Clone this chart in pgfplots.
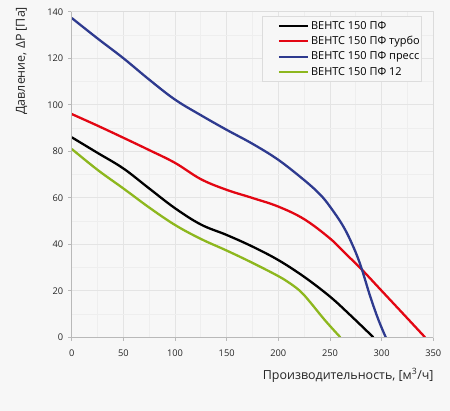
\documentclass[border=0pt]{standalone}
\usepackage{fontspec}
\setmainfont{Open Sans}
\usepackage{pgfplots}
\pgfplotsset{compat=1.18}
\definecolor{bg}{HTML}{F7F7F7}
\definecolor{axl}{HTML}{B9B9B9}
\definecolor{frm}{HTML}{DCDCDC}
\definecolor{gmaj}{HTML}{E4E4E4}
\definecolor{gmin}{HTML}{EEEEEE}
\definecolor{cred}{HTML}{E30613}
\definecolor{cblue}{HTML}{2E3A8F}
\definecolor{cgreen}{HTML}{8DB71E}
\begin{document}
\begin{tikzpicture}
\path[use as bounding box, fill=bg] (-71.7bp,-73.7bp) rectangle (378.3bp,337.3bp);
\begin{axis}[
  name=ax,
  at={(0,0)}, anchor=south west,
  scale only axis, width=361.6bp, height=325.6bp,
  xmin=0, xmax=350, ymin=0, ymax=140,
  xtick={0,50,...,350}, ytick={0,20,...,140},
  minor x tick num=1, minor y tick num=1,
  grid=both,
  major grid style={draw=gmaj, line width=0.8pt},
  minor grid style={draw=gmin, line width=0.8pt},
  axis line style={draw=frm, line width=0.8pt},
  xtick pos=bottom, ytick pos=left,
  tick align=outside, major tick length=3.5bp, minor tick length=0pt,
  tick style={draw=axl, line width=0.6pt},
  /pgf/number format/assume math mode=true,
  ticklabel style={font=\fontsize{9.3}{11}\selectfont, text=black!85},
  xticklabel style={yshift=-5bp},
  yticklabel style={xshift=-1.5bp},
  legend style={at={(0.969,0.987)}, anchor=north east, draw=frm, fill=bg,
    font=\fontsize{11}{12}\selectfont, row sep=1.8bp, inner ysep=2.8bp, inner xsep=0bp, line width=0.8pt},
  legend cell align=left,
  legend image code/.code={\path (0bp,0bp); \draw[#1] (15bp,0bp) -- (44bp,0bp);},
  every axis plot/.append style={line width=2.3pt, smooth, tension=0.6},
]
\addplot[black] coordinates {(0,86) (25,79.3) (50,72.6) (75,64) (100,55.5) (125,48.5) (150,44) (175,39) (200,33.2) (225,26) (250,17.5) (269,9.8) (292,0)};
\addplot[cred] coordinates {(0,96) (25,91) (50,85.8) (75,80.5) (100,75) (125,68) (150,63.4) (175,59.9) (200,56.2) (225,50.8) (250,42.5) (265,36) (280,29.5) (300,20) (320,10.5) (342,0)};
\addplot[cblue] coordinates {(0,137.3) (25,128.5) (50,120) (75,110.8) (100,102.2) (125,95.5) (150,89.2) (175,83.2) (200,76.3) (225,67.6) (240,61.6) (250,56.2) (263,47.6) (272.6,38.9) (280,30.4) (289,17.5) (297,7.4) (304,0)};
\addplot[cgreen] coordinates {(0,81) (25,72) (50,64) (75,55.8) (100,48.3) (125,42.3) (150,37.3) (175,32) (200,26.3) (212,23) (222,19.5) (231,15) (245,7.4) (260,0)};
\legend{ВЕНТС 150 ПФ, ВЕНТС 150 ПФ турбо, ВЕНТС 150 ПФ пресс, ВЕНТС 150 ПФ 12}
\end{axis}
\draw[axl, line width=0.8pt] (ax.north west) -- (ax.south west) -- (ax.south east);
\node[anchor=east, font=\fontsize{12.5}{14}\selectfont, text=black!85, inner sep=0pt] at ([yshift=-38bp, xshift=0.5bp]ax.south east) {Производительность, [м\textsuperscript{3}/ч]};
\node[anchor=east, rotate=90, font=\fontsize{12.5}{14}\selectfont, text=black!85, inner sep=0pt] at ([xshift=-50bp, yshift=5bp]ax.north west) {Давление, ΔР [Па]};
\end{tikzpicture}
\end{document}
